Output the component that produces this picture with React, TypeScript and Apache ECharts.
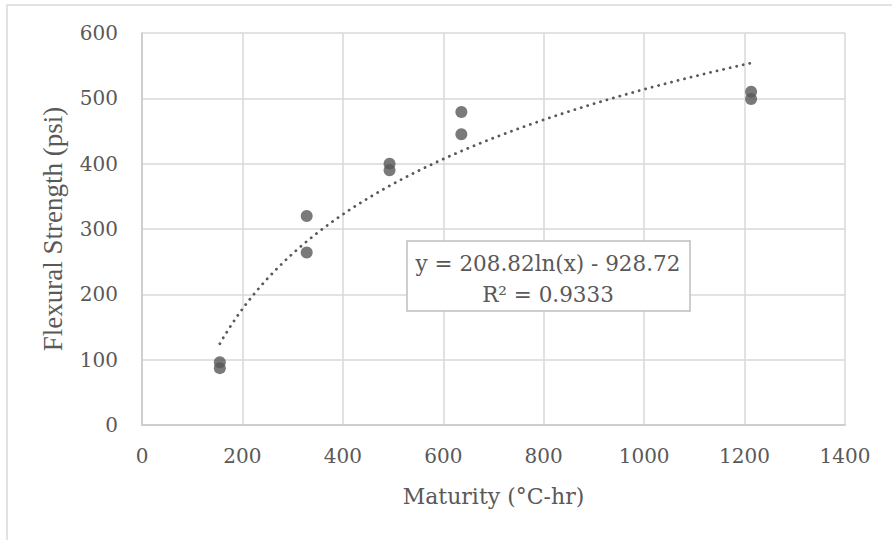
import React, { useEffect, useRef } from "react";
import * as echarts from "echarts";

// Maturity (°C-hr) of each specimen and its measured flexural strength (psi)
const maturity = [155, 155, 328, 328, 493, 493, 636, 636, 1213, 1213];
const strength = [96, 87, 320, 264, 400, 390, 479, 445, 510, 499];

// Logarithmic trendline reported for the data: y = a·ln(x) + b
const trendA = 208.82;
const trendB = -928.72;
const trendR2 = 0.9333;

const xTicks = [0, 200, 400, 600, 800, 1000, 1200, 1400];
const yTicks = [0, 100, 200, 300, 400, 500, 600];

const TEXT = "#595959";
const FONT = "'DejaVu Serif', 'Liberation Serif', serif";
const TITLE_FONT = "'Liberation Serif', 'Times New Roman', serif";

export default function App() {
  const ref = useRef<HTMLDivElement>(null);

  useEffect(() => {
    document.body.style.margin = "0";
    const chart = echarts.init(ref.current!, undefined, { renderer: "svg" });

    const xMin = Math.min(...maturity);
    const xMax = Math.max(...maturity);
    const trend: number[][] = [];
    const steps = 120;
    for (let i = 0; i <= steps; i++) {
      const x = xMin + ((xMax - xMin) * i) / steps;
      trend.push([x, trendA * Math.log(x) + trendB]);
    }

    const eq = `y = ${trendA.toFixed(2)}ln(x) - ${Math.abs(trendB).toFixed(2)}`;
    const r2 = `R² = ${trendR2.toFixed(4)}`;

    chart.setOption({
      animation: false,
      backgroundColor: "#ffffff",
      textStyle: { fontFamily: FONT },
      grid: { left: 142, right: 47, top: 33, bottom: 115 },
      xAxis: {
        type: "value",
        min: xTicks[0],
        max: xTicks[xTicks.length - 1],
        interval: xTicks[1] - xTicks[0],
        name: "Maturity (°C-hr)",
        nameLocation: "middle",
        nameGap: 60,
        nameTextStyle: { color: TEXT, fontSize: 22, fontFamily: FONT },
        axisLine: { show: true, lineStyle: { color: "#c8c8c8", width: 1.5 } },
        axisTick: { show: false },
        axisLabel: {
          color: TEXT,
          fontSize: 20,
          fontFamily: FONT,
          margin: 21,
          formatter: (v: number) => String(v),
        },
        splitLine: { show: true, lineStyle: { color: "#d9d9d9", width: 1.5 } },
      },
      yAxis: {
        type: "value",
        min: yTicks[0],
        max: yTicks[yTicks.length - 1],
        interval: yTicks[1] - yTicks[0],
        name: "Flexural Strength (psi)",
        nameLocation: "middle",
        nameGap: 76,
        nameTextStyle: { color: TEXT, fontSize: 27, fontFamily: TITLE_FONT },
        axisLine: { show: true, lineStyle: { color: "#c8c8c8", width: 1.5 } },
        axisTick: { show: false },
        axisLabel: {
          color: TEXT,
          fontSize: 20,
          fontFamily: FONT,
          margin: 24,
          formatter: (v: number) => String(v),
        },
        splitLine: { show: true, lineStyle: { color: "#d9d9d9", width: 1.5 } },
      },
      series: [
        {
          type: "line",
          data: trend,
          showSymbol: false,
          symbol: "none",
          smooth: false,
          lineStyle: { color: "#595959", width: 2.8, type: [0.1, 6.6], cap: "round" },
          z: 2,
        },
        {
          type: "scatter",
          data: maturity.map((m, i) => [m, strength[i]]),
          symbol: "circle",
          symbolSize: 12,
          itemStyle: { color: "#595959" },
          z: 3,
        },
      ],
      graphic: [
        {
          type: "rect",
          shape: { x: 7, y: 5, width: 900, height: 560 },
          style: { fill: "none", stroke: "#d9d9d9", lineWidth: 1.5 },
          silent: true,
          z: 0,
        },
        {
          type: "rect",
          shape: { x: 407, y: 241, width: 283, height: 70 },
          style: { fill: "#ffffff", stroke: "#bfbfbf", lineWidth: 1.5 },
          z: 10,
        },
        {
          type: "text",
          x: 548,
          y: 263,
          z: 11,
          style: {
            text: eq,
            fill: TEXT,
            font: `21.5px ${FONT}`,
            align: "center",
            verticalAlign: "middle",
          },
        },
        {
          type: "text",
          x: 548,
          y: 294,
          z: 11,
          style: {
            text: r2,
            fill: TEXT,
            font: `21.5px ${FONT}`,
            align: "center",
            verticalAlign: "middle",
          },
        },
      ],
    });

    return () => chart.dispose();
  }, []);

  return (
    <div
      ref={ref}
      style={{ position: "absolute", left: 0, top: 0, width: 892, height: 540 }}
    />
  );
}
